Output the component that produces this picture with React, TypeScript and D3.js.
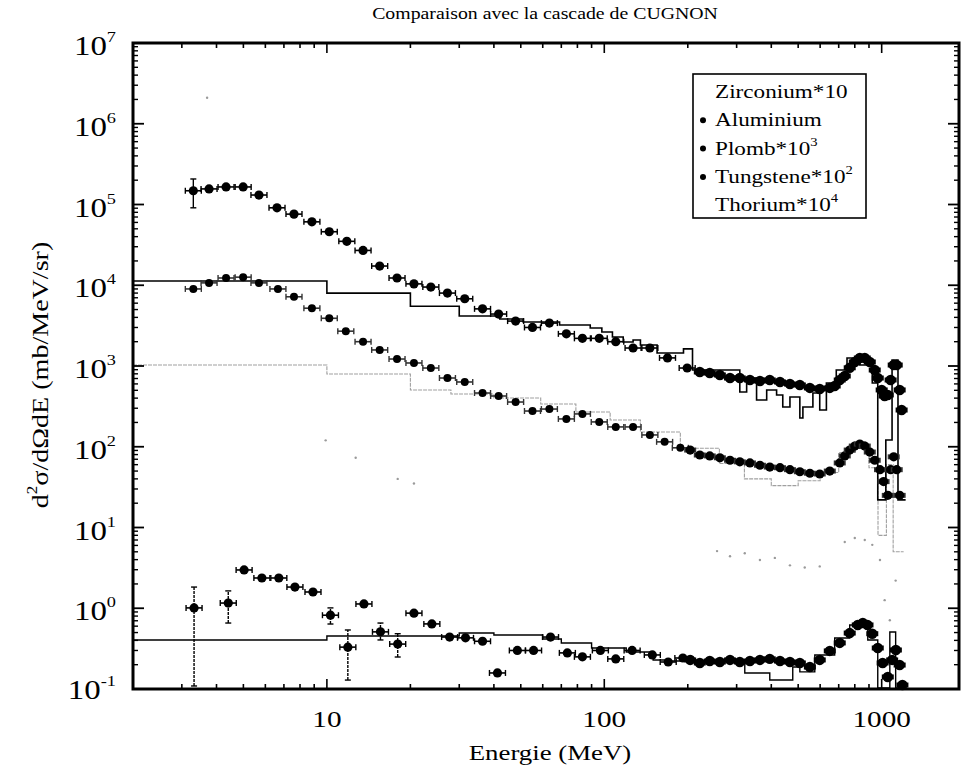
import React from "react";
import * as d3 from "d3";

// ---------- data ----------
const title = "Comparaison avec la cascade de CUGNON";
const xTickValues = [10, 100, 1000];
const yTickExponents = [-1, 0, 1, 2, 3, 4, 5, 6, 7];
const legendLabels = [
  { base: "Zirconium*10", exp: "", marker: false },
  { base: "Aluminium", exp: "", marker: true },
  { base: "Plomb*10", exp: "3", marker: true },
  { base: "Tungstene*10", exp: "2", marker: true },
  { base: "Thorium*10", exp: "4", marker: false },
];

// Plomb*10^3 (top series): [E (MeV), value]
const plombData: [number, number][] = [
  [3.3, 1.48e5], [3.76, 1.56e5], [4.33, 1.65e5], [4.99, 1.65e5], [5.69, 1.31e5],
  [6.61, 9.1e4], [7.61, 7.6e4], [8.83, 6.1e4], [10.2, 4.6e4], [11.8, 3.5e4],
  [13.5, 2.7e4], [15.5, 1.73e4], [17.9, 1.23e4], [20.6, 1.04e4], [23.7, 9.5e3],
  [27.2, 8.0e3], [31.4, 6.8e3], [36.4, 5.1e3], [41.6, 4.4e3], [47.9, 3.6e3],
  [55.1, 3.0e3], [63.4, 3.4e3], [73, 2.5e3], [83.4, 2.2e3], [95.9, 2.2e3],
  [110, 2.0e3], [127, 1.67e3], [146, 1.67e3], [169, 1.26e3], [199, 944],
  [221, 843], [240, 818], [261, 774], [284, 710], [308, 710], [335, 671],
  [364, 652], [395, 671], [430, 634], [467, 598], [507, 582], [551, 535],
  [598, 519], [650, 535], [677, 565], [706, 671], [736, 752], [767, 950],
  [800, 1122], [834, 1256], [869, 1256], [906, 1122], [944, 892], [968, 710],
  [1000, 505], [1025, 425], [1052, 438], [1077, 671], [1105, 1028], [1133, 1028],
  [1161, 505], [1180, 285],
];
const plombErr: [number, number, number][] = [[3.3, 9.1e4, 2.07e5]];

// Tungstene*10^2 (middle series)
const tungData: [number, number][] = [
  [3.3, 9.0e3], [3.76, 1.07e4], [4.33, 1.23e4], [4.99, 1.26e4], [5.69, 1.07e4],
  [6.66, 9.0e3], [7.61, 7.2e3], [8.83, 5.2e3], [10.2, 3.9e3], [11.7, 2.7e3],
  [13.5, 2.0e3], [15.5, 1.58e3], [17.9, 1.22e3], [20.6, 1.09e3], [23.7, 944],
  [27.2, 710], [31.4, 634], [36.4, 463], [41.6, 425], [47.9, 358], [55.1, 277],
  [63.4, 293], [73, 221], [83.4, 255], [95.9, 203], [110, 176], [127, 176],
  [146, 140], [165, 115], [188, 97],
  [204, 91], [221, 79], [240, 77], [261, 73], [284, 68], [308, 65], [335, 63],
  [364, 59], [395, 56], [430, 55], [467, 52], [507, 49], [551, 47], [598, 46],
  [650, 50], [706, 63], [736, 77], [767, 91], [800, 102], [834, 108], [869, 102],
  [906, 86], [944, 68], [986, 52], [1016, 37], [1052, 25], [1077, 52], [1105, 75],
  [1133, 52], [1161, 25],
];

// Aluminium (bottom series)
const alumData: [number, number][] = [
  [3.32, 1.01], [4.41, 1.16], [5.03, 2.98], [5.83, 2.37], [6.71, 2.37],
  [7.67, 1.83], [8.91, 1.59], [10.3, 0.82], [11.9, 0.33], [13.6, 1.13],
  [15.6, 0.51], [18.0, 0.36], [20.6, 0.87], [23.9, 0.64], [27.7, 0.44],
  [31.6, 0.43], [36.4, 0.39], [41.2, 0.158], [48.6, 0.3], [55.6, 0.3],
  [64, 0.44], [73.6, 0.28], [83.4, 0.25], [96.8, 0.3], [110, 0.236],
  [126, 0.3], [149, 0.264], [170, 0.216], [192, 0.242],
  [204, 0.229], [221, 0.21], [240, 0.222], [261, 0.216], [284, 0.229],
  [308, 0.216], [335, 0.222], [364, 0.229], [395, 0.236], [430, 0.222],
  [467, 0.216], [507, 0.21], [551, 0.187], [598, 0.229], [650, 0.296],
  [706, 0.372], [767, 0.493], [820, 0.621], [855, 0.656], [889, 0.621],
  [925, 0.484], [968, 0.322], [1008, 0.21], [1052, 0.141], [1091, 0.229],
  [1125, 0.304], [1161, 0.198], [1188, 0.112],
];
const alumErr: [number, number, number][] = [
  [3.32, 0.109, 1.83], [4.41, 0.656, 1.64], [10.3, 0.638, 1.01],
  [11.9, 0.129, 0.538], [15.6, 0.405, 0.656], [18.0, 0.249, 0.484],
];

// Zirconium*10 (very faint in the scan)
const zircData: [number, number][] = [
  [9.9, 120], [12.7, 73], [18.0, 40], [20.6, 35], [255, 5.1], [284, 4.4],
  [321, 4.8], [364, 3.95], [412, 4.2], [467, 3.4], [528, 3.2], [598, 3.3],
  [736, 6.6], [800, 7.4], [869, 7.0], [925, 6.1], [986, 3.95], [1025, 1.26],
  [1070, 0.71], [1123, 2.2], [1161, 0.3],
];
// Thorium*10^4 (only a faint trace visible)
const thorData: [number, number][] = [[3.7, 2.1e6]];

// CUGNON cascade histograms: bin edges and bin values
const plombModelEdges = [2, 10, 20, 30, 42, 51, 69, 89, 98, 107, 117, 127, 135, 155, 193, 208, 308, 326, 354, 385, 418, 440, 467, 507, 520, 565, 598, 632, 686, 750, 834, 925, 968, 1035, 1090, 1145, 1220];
const plombModelVals = [1.13e4, 8.0e3, 5.5e3, 4.16e3, 3.82e3, 3.51e3, 3.22e3, 2.96e3, 2.64e3, 2.29e3, 1.98e3, 2.1e3, 1.82e3, 1.45e3, 1.63e3, 892, 476, 710, 379, 505, 438, 311, 413, 227, 311, 463, 285, 616, 892, 1256, 1028, 616, 22, 121, 1186, 22];

const tungModelEdges = [2, 10, 20, 28, 40, 59, 79, 105, 135, 188, 260, 320, 400, 500, 600, 700, 800, 900, 970, 1040, 1100, 1200];
const tungModelVals = [1028, 796, 505, 450, 402, 338, 269, 214, 152, 96, 62, 40, 33, 38, 48, 85, 95, 55, 8, 60, 5];

const alumModelEdges = [2, 10, 30, 40, 60, 70, 90, 120, 150, 170, 321, 395, 478, 507, 574, 677, 767, 891, 968, 1070, 1123, 1210];
const alumModelVals = [0.405, 0.453, 0.493, 0.467, 0.416, 0.372, 0.322, 0.287, 0.229, 0.222, 0.158, 0.129, 0.187, 0.163, 0.264, 0.428, 0.621, 0.405, 0.103, 0.508, 0.103];

// ---------- layout ----------
const W = 963;
const H = 777;
const FONT = '"Liberation Serif", "Times New Roman", Times, serif';
const SX = 1.22; // the scanned lettering is wider than Times
const left = 133, right = 959, top = 43, bottom = 689;

const x = d3.scaleLog().domain([2, 1900]).range([left, right]);
const y = d3.scaleLog().domain([0.1, 1e7]).range([bottom, top]);

function histPath(edges: number[], vals: number[]) {
  const pts: [number, number][] = [];
  vals.forEach((v, i) => {
    pts.push([x(edges[i]), y(v)]);
    pts.push([x(edges[i + 1]), y(v)]);
  });
  return d3.line()(pts) || "";
}

function T({ x: tx, y: ty, size, anchor = "start", sx = SX, rotate = 0, children }: any) {
  return (
    <g transform={`translate(${tx},${ty}) rotate(${rotate}) scale(${sx},1)`}>
      <text x={0} y={0} fontSize={size} textAnchor={anchor} style={{ fontFamily: FONT }} fill="#000">
        {children}
      </text>
    </g>
  );
}

function Points({ data, r, color, barColor, denseFrom }: any) {
  return (
    <g>
      {data.map(([e, v]: [number, number], i: number) => {
        const cx = x(e), cy = y(v);
        const dense = e >= denseFrom;
        const hw = dense ? 6 : 8;
        return (
          <g key={i}>
            <line x1={cx - hw} x2={cx + hw} y1={cy} y2={cy} stroke={barColor} strokeWidth={dense ? 5 : 1.6} />
            {!dense && (
              <>
                <line x1={cx - hw} x2={cx - hw} y1={cy - 3} y2={cy + 3} stroke={barColor} strokeWidth={1.4} />
                <line x1={cx + hw} x2={cx + hw} y1={cy - 3} y2={cy + 3} stroke={barColor} strokeWidth={1.4} />
              </>
            )}
            <circle cx={cx} cy={cy} r={dense ? r + 0.6 : r} fill={color} />
          </g>
        );
      })}
    </g>
  );
}

function ErrBars({ data, color, dashed }: any) {
  return (
    <g>
      {data.map(([e, lo, hi]: [number, number, number], i: number) => {
        const cx = x(e);
        return (
          <g key={i} stroke={color} strokeWidth={1.4}>
            <line x1={cx} x2={cx} y1={y(lo)} y2={y(hi)} strokeDasharray={dashed ? "3,1" : undefined} />
            <line x1={cx - 3} x2={cx + 3} y1={y(lo)} y2={y(lo)} />
            <line x1={cx - 3} x2={cx + 3} y1={y(hi)} y2={y(hi)} />
          </g>
        );
      })}
    </g>
  );
}

export default function App() {
  const xMinor: number[] = [];
  for (let dec = 1; dec <= 1000; dec *= 10)
    for (let k = 1; k <= 9; k++) {
      const v = k * dec;
      if (v >= 2 && v <= 1900) xMinor.push(v);
    }
  const yMinor: number[] = [];
  for (let p = -1; p < 7; p++)
    for (let k = 2; k <= 9; k++) yMinor.push(k * Math.pow(10, p));

  return (
    <svg width={W} height={H} style={{ position: "absolute", left: 0, top: 0, background: "#fff", fontFamily: FONT }}>
      <rect x={0} y={0} width={W} height={H} fill="#fff" />
      <T x={545} y={19} size={16.5} anchor="middle" sx={1.2}>{title}</T>

      {/* models */}
      <path d={histPath(tungModelEdges, tungModelVals)} fill="none" stroke="#a0a0a0" strokeWidth={1.1} strokeDasharray="4,1" />
      <path d={histPath(plombModelEdges, plombModelVals)} fill="none" stroke="#000" strokeWidth={1.6} />
      <path d={histPath(alumModelEdges, alumModelVals)} fill="none" stroke="#000" strokeWidth={1.4} />

      {/* faint series */}
      {zircData.map(([e, v], i) => (
        <circle key={"z" + i} cx={x(e)} cy={y(v)} r={1.2} fill="#9a9a9a" />
      ))}
      {thorData.map(([e, v], i) => (
        <circle key={"t" + i} cx={x(e)} cy={y(v)} r={1.2} fill="#9a9a9a" />
      ))}

      {/* data */}
      <ErrBars data={plombErr} color="#000" />
      <ErrBars data={alumErr} color="#000" dashed />
      <Points data={tungData} r={4} color="#000" barColor="#333" denseFrom={200} />
      <Points data={plombData} r={4.6} color="#000" barColor="#000" denseFrom={215} />
      <Points data={alumData} r={4.6} color="#000" barColor="#000" denseFrom={200} />

      {/* frame */}
      <rect x={left} y={top} width={right - left} height={bottom - top} fill="none" stroke="#000" strokeWidth={3} />
      {xMinor.map((v, i) => {
        const major = [10, 100, 1000].includes(v);
        const L = major ? 10 : 5;
        return (
          <g key={"xt" + i} stroke="#000" strokeWidth={1.6}>
            <line x1={x(v)} x2={x(v)} y1={bottom} y2={bottom - L} />
            <line x1={x(v)} x2={x(v)} y1={top} y2={top + L} />
          </g>
        );
      })}
      {yTickExponents.map((p) => (
        <g key={"ym" + p} stroke="#000" strokeWidth={1.8}>
          <line x1={left} x2={left + 11} y1={y(Math.pow(10, p))} y2={y(Math.pow(10, p))} />
          <line x1={right} x2={right - 11} y1={y(Math.pow(10, p))} y2={y(Math.pow(10, p))} />
        </g>
      ))}
      {yMinor.map((v, i) => (
        <g key={"yt" + i} stroke="#000" strokeWidth={1.4}>
          <line x1={left} x2={left + 5} y1={y(v)} y2={y(v)} />
          <line x1={right} x2={right - 5} y1={y(v)} y2={y(v)} />
        </g>
      ))}

      {/* tick labels */}
      {xTickValues.map((v) => (
        <T key={"xl" + v} x={x(v)} y={727} size={24} anchor="middle">{String(v)}</T>
      ))}
      {yTickExponents.map((p) => (
        <T key={"yl" + p} x={116} y={Math.min(y(Math.pow(10, p)) + 12, 699)} size={27} anchor="end">
          10<tspan dy={-13} fontSize={15}>{String(p)}</tspan>
        </T>
      ))}

      {/* axis titles */}
      <T x={550} y={760} size={22} anchor="middle">Energie (MeV)</T>
      <T x={48} y={375} size={23} anchor="middle" rotate={-90}>
        d<tspan dy={-11} fontSize={14}>2</tspan><tspan dy={11}>σ/dΩdE (mb/MeV/sr)</tspan>
      </T>

      {/* legend */}
      <rect x={693} y={74} width={173} height={144} fill="#fff" stroke="#000" strokeWidth={1.6} />
      {legendLabels.map((l, i) => {
        const cy = 92 + i * 28.3;
        return (
          <g key={"lg" + i}>
            {l.marker && <circle cx={703} cy={cy} r={3} fill="#000" />}
            <T x={715} y={cy + 6} size={19}>
              {l.base}
              {l.exp && <tspan dy={-9} fontSize={12}>{l.exp}</tspan>}
            </T>
          </g>
        );
      })}
    </svg>
  );
}
